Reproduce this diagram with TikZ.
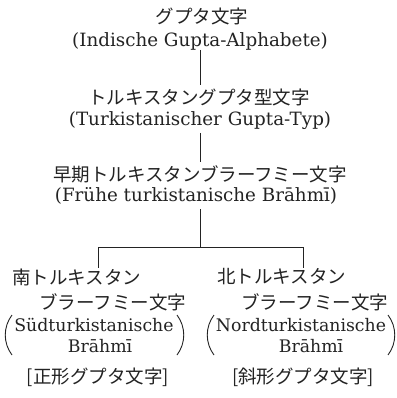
\documentclass[tikz,border=0pt]{standalone}
\usepackage{fontspec}
\setmainfont{DejaVu Serif}
\newfontfamily\jp{Noto Sans CJK JP}
\definecolor{ink}{RGB}{35,35,35}
\begin{document}
\begin{tikzpicture}[x=1pt,y=-1pt,
  jt/.style={font=\jp\fontsize{18.5}{19}\selectfont, inner sep=0pt, text=ink},
  lt/.style={font=\fontsize{18.3}{19}\selectfont, inner sep=0pt, text=ink},
  lts/.style={font=\fontsize{17.3}{18}\selectfont, inner sep=0pt, text=ink},
  ln/.style={draw=ink, line width=0.8pt},
  paren/.style={draw=ink, line width=0.9pt}]
\useasboundingbox[fill=white] (0,0) rectangle (396,398);
% top chain
\node[jt] (t1) at (202,16) {グプタ文字};
\node[lt] (t1b) at (200,41) {(Indische Gupta-Alphabete)};
\node[jt] (t2) at (199,97) {トルキスタングプタ型文字};
\node[lt] (t2b) at (200,121) {(Turkistanischer Gupta-Typ)};
\node[jt] (t3) at (200,174) {早期トルキスタンブラーフミー文字};
\node[lt] (t3b) at (196,196) {(Frühe turkistanische Brāhmī)};
% left branch
\node[jt, anchor=west] (s1) at (12,277) {南トルキスタン};
\node[jt, anchor=west] (s2) at (39,302) {ブラーフミー文字};
\node[lts] (s3) at (94,325) {Südturkistanische};
\node[lts] (s4) at (100,346) {Brāhmī};
\node[jt] (s5) at (98,377) {[正形グプタ文字]};
% right branch
\node[jt, anchor=west] (n1) at (217,277) {北トルキスタン};
\node[jt, anchor=west] (n2) at (241,302) {ブラーフミー文字};
\node[lts] (n3) at (301,325) {Nordturkistanische};
\node[lts] (n4) at (311,346) {Brāhmī};
\node[jt] (n5) at (303,377) {[斜形グプタ文字]};
% connectors
\coordinate (a1) at (200,50);
\coordinate (a2) at (200,85);
\coordinate (b1) at (200,133);
\coordinate (b2) at (200,162);
\coordinate (c1) at (200,209);
\coordinate (j) at (200,247);
\coordinate (jl) at (98,247);
\coordinate (jr) at (303,247);
\coordinate (jl2) at (98,268);
\coordinate (jr2) at (303,268);
\draw[ln] (a1) -- (a2);
\draw[ln] (b1) -- (b2);
\draw[ln] (c1) -- (j);
\draw[ln] (jl) -- (jr);
\draw[ln] (jl) -- (jl2);
\draw[ln] (jr) -- (jr2);
% parentheses
\draw[paren] (12,315) .. controls (3,327) and (3,343) .. (12,355);
\draw[paren] (177,315) .. controls (186,327) and (186,343) .. (177,355);
\draw[paren] (214,315) .. controls (205,327) and (205,343) .. (214,355);
\draw[paren] (388,315) .. controls (397,327) and (397,343) .. (388,355);
\end{tikzpicture}
\end{document}
